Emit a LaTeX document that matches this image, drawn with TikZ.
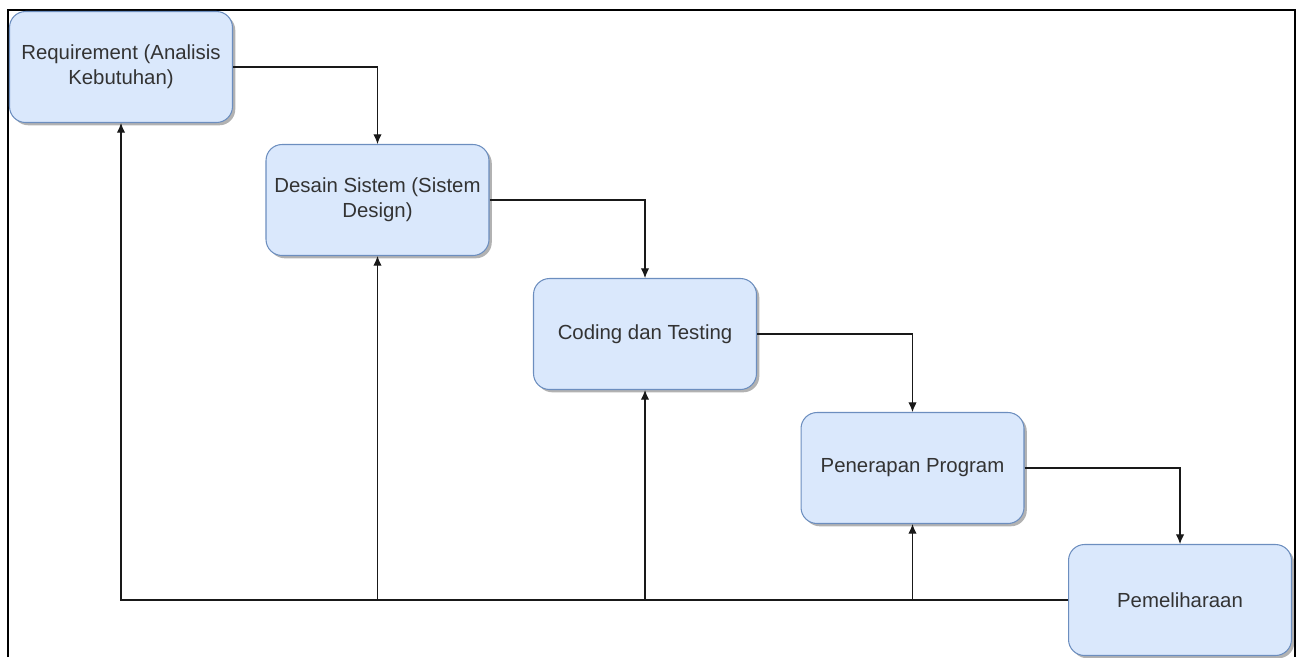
\documentclass[tikz,border=0pt]{standalone}
\usepackage{fontspec}
\setmainfont{Liberation Sans}
\usetikzlibrary{arrows.meta,shadows}
\definecolor{boxfill}{HTML}{DAE8FC}
\definecolor{boxline}{HTML}{6C8EBF}
\definecolor{boxtext}{HTML}{333333}
\tikzset{
	phase/.style={draw=boxline, fill=boxfill, line width=0.6pt, rounded corners=0.32cm,
		minimum width=4.46cm, minimum height=2.22cm, align=center, text=boxtext,
		font=\fontsize{11.6}{14}\selectfont,
		drop shadow={shadow xshift=1.6pt, shadow yshift=-1.6pt, fill=black, opacity=0.3}},
	flow/.style={draw=black!90, line width=0.6pt, -{Latex[length=5.5pt,width=4.8pt]}}
}

\begin{document}
\begin{tikzpicture}[x=0.02cm, y=-0.02cm]
		%%%%% START %%%%%
		
		\useasboundingbox (0, 0) rectangle (1299, 657);
		
		% outer frame, open at the bottom
		\draw[line width=1.1pt] (8, 657) -- (8, 10) -- (1295, 10) -- (1295, 657);
		
		% the five phases
		\node[phase] (req) at (121, 67) {Requirement (Analisis\\Kebutuhan)};
		\node[phase] (desain) at (377.5, 200) {Desain Sistem (Sistem\\Design)};
		\node[phase] (coding) at (645, 334) {Coding dan Testing};
		\node[phase] (terap) at (912.5, 468) {Penerapan Program};
		\node[phase] (pelihara) at (1180, 600) {Pemeliharaan};
		
		% forward steps
		\draw[flow] (req.east) -| (desain.north);
		\draw[flow] (desain.east) -| (coding.north);
		\draw[flow] (coding.east) -| (terap.north);
		\draw[flow] (terap.east) -| (pelihara.north);
		
		% feedback line back to every phase
		\draw[flow] (pelihara.west) -| (req.south);
		\draw[flow] (pelihara.west -| desain.south) -- (desain.south);
		\draw[flow] (pelihara.west -| coding.south) -- (coding.south);
		\draw[flow] (pelihara.west -| terap.south) -- (terap.south);
		
		%%%%% END %%%%%
\end{tikzpicture}
\end{document}
